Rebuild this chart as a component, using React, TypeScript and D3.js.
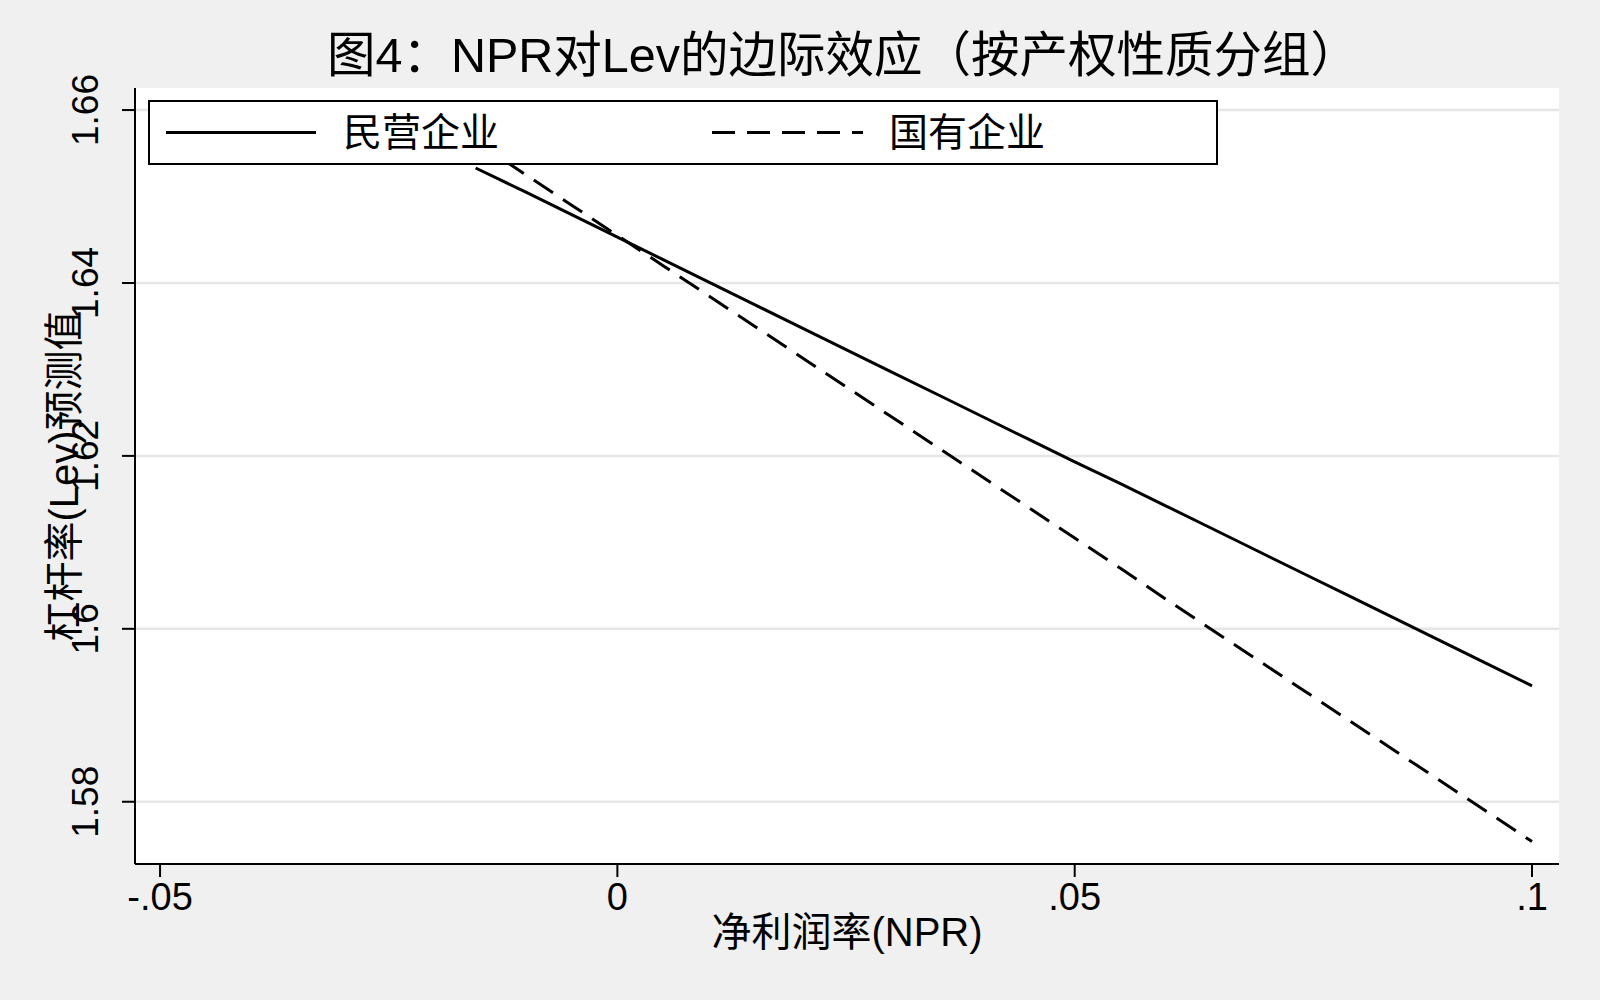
import React from "react";
import * as d3 from "d3";

const TITLE = "图4：NPR对Lev的边际效应（按产权性质分组）";
const X_TITLE = "净利润率(NPR)";
const Y_TITLE = "杠杆率(Lev)预测值";
const SERIES_NAMES = ["民营企业", "国有企业"];

const NPR = [-0.0155, -0.01, -0.005, 0, 0.005, 0.01, 0.015, 0.02, 0.025, 0.03, 0.035, 0.04, 0.045, 0.05, 0.055, 0.06, 0.065, 0.07, 0.075, 0.08, 0.085, 0.09, 0.095, 0.1];
const PRIVATE_LEV = [1.6533, 1.6505, 1.6479, 1.6453, 1.6427, 1.6401, 1.6375, 1.6349, 1.6323, 1.6297, 1.6271, 1.6245, 1.6219, 1.6193, 1.6168, 1.6142, 1.6116, 1.609, 1.6064, 1.6038, 1.6012, 1.5986, 1.596, 1.5934];
const STATE_LEV = [1.6564, 1.6525, 1.649, 1.6455, 1.642, 1.6385, 1.635, 1.6315, 1.628, 1.6245, 1.621, 1.6175, 1.614, 1.6105, 1.607, 1.6034, 1.5999, 1.5964, 1.5929, 1.5894, 1.5859, 1.5824, 1.5789, 1.5754];

const X_TICKS = [-0.05, 0, 0.05, 0.1];
const X_TICK_LABELS = ["-.05", "0", ".05", ".1"];
const Y_TICKS = [1.58, 1.6, 1.62, 1.64, 1.66];
const Y_TICK_LABELS = ["1.58", "1.6", "1.62", "1.64", "1.66"];

const FONT = "'Liberation Sans', 'Noto Sans CJK SC', sans-serif";

export default function App() {
  const W = 1600, H = 1000;
  const left = 135, right = 1559, top = 88, bottom = 864;
  const x = d3.scaleLinear().domain([-0.05274, 0.10295]).range([left, right]);
  const y = d3.scaleLinear().domain([1.5728, 1.66255]).range([bottom, top]);

  const lineGen = d3.line<number>().x((_, i) => x(NPR[i])).y((d) => y(d));

  const legTop = 101, legBottom = 164, legLeft = 149, legRight = 1217;
  const legY = (legTop + legBottom) / 2;

  return (
    <svg width={W} height={H} style={{ position: "absolute", left: 0, top: 0, display: "block" }} fontFamily={FONT}>
      <rect x={0} y={0} width={W} height={H} fill="#f0f0f0" />
      <rect x={left} y={top} width={right - left} height={bottom - top} fill="#ffffff" />
      {Y_TICKS.map((t) => (
        <line key={"g" + t} x1={left} x2={right} y1={y(t)} y2={y(t)} stroke="#e6e6e6" strokeWidth={2.5} />
      ))}
      <path d={lineGen(PRIVATE_LEV) || ""} fill="none" stroke="#000" strokeWidth={3} strokeLinejoin="round" />
      <path d={lineGen(STATE_LEV) || ""} fill="none" stroke="#000" strokeWidth={3} strokeDasharray="23 12" />

      {/* axes */}
      <line x1={left} x2={left} y1={top} y2={bottom} stroke="#000" strokeWidth={2} />
      <line x1={left} x2={right} y1={bottom} y2={bottom} stroke="#000" strokeWidth={2} />
      {Y_TICKS.map((t, i) => (
        <g key={"y" + t}>
          <line x1={left - 13} x2={left} y1={y(t)} y2={y(t)} stroke="#000" strokeWidth={2} />
          <text transform={`translate(98,${y(t)}) rotate(-90)`} textAnchor="middle" fontSize={37} fill="#000">
            {Y_TICK_LABELS[i]}
          </text>
        </g>
      ))}
      {X_TICKS.map((t, i) => (
        <g key={"x" + t}>
          <line x1={x(t)} x2={x(t)} y1={bottom} y2={bottom + 13} stroke="#000" strokeWidth={2} />
          <text x={x(t)} y={910} textAnchor="middle" fontSize={38} fill="#000">
            {X_TICK_LABELS[i]}
          </text>
        </g>
      ))}
      <text x={(left + right) / 2} y={946} textAnchor="middle" fontSize={40} fill="#000">
        {X_TITLE}
      </text>
      <text transform={`translate(78,${(top + bottom) / 2}) rotate(-90)`} textAnchor="middle" fontSize={40} fill="#000">
        {Y_TITLE}
      </text>
      <text x={843} y={72} textAnchor="middle" fontSize={48.5} fill="#000">
        {TITLE}
      </text>

      {/* legend */}
      <rect x={legLeft} y={legTop} width={legRight - legLeft} height={legBottom - legTop} fill="#ffffff" stroke="#000" strokeWidth={2} />
      <line x1={166} x2={316} y1={legY} y2={legY} stroke="#000" strokeWidth={3} />
      <text x={343} y={legY} dominantBaseline="central" fontSize={39} fill="#000">
        {SERIES_NAMES[0]}
      </text>
      <line x1={712} x2={863} y1={legY} y2={legY} stroke="#000" strokeWidth={3} strokeDasharray="23 12" />
      <text x={889} y={legY} dominantBaseline="central" fontSize={39} fill="#000">
        {SERIES_NAMES[1]}
      </text>
    </svg>
  );
}
